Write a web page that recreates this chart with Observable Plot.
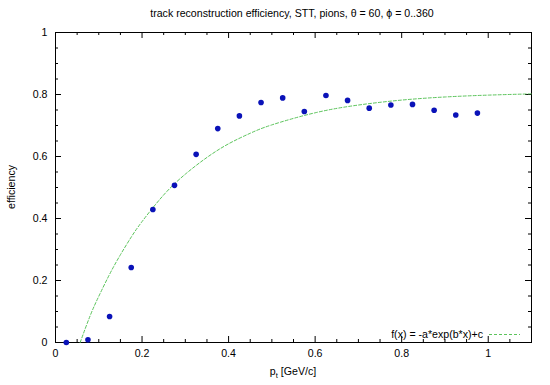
<!DOCTYPE html>
<html>
<head>
<meta charset="utf-8">
<script src="https://cdn.jsdelivr.net/npm/d3@7"></script>
<script src="https://cdn.jsdelivr.net/npm/@observablehq/plot@0.6"></script>
<style>
  html, body { margin: 0; padding: 0; background: #fff; }
  svg { font-family: "Liberation Sans", Arial, sans-serif; }
</style>
</head>
<body>
<div id="chart"></div>
<script>
// measured efficiency vs pt
const ptValues = [0.025, 0.075, 0.125, 0.175, 0.225, 0.275, 0.325, 0.375, 0.425, 0.475,
                  0.525, 0.575, 0.625, 0.675, 0.725, 0.775, 0.825, 0.875, 0.925, 0.975];
const effValues = [0.0, 0.009, 0.084, 0.242, 0.429, 0.507, 0.607, 0.690, 0.731, 0.774,
                   0.789, 0.745, 0.797, 0.781, 0.756, 0.766, 0.768, 0.749, 0.734, 0.740];
// fit curve f(x) = -a*exp(b*x)+c
const fitX = [0.057, 0.08, 0.1, 0.125, 0.15, 0.175, 0.2, 0.25, 0.3, 0.35, 0.4, 0.45, 0.5,
              0.6, 0.7, 0.8, 0.9, 1.0, 1.1];
const fitY = [0.0, 0.086, 0.149, 0.220, 0.283, 0.340, 0.390, 0.476, 0.543, 0.597, 0.641,
              0.675, 0.702, 0.741, 0.766, 0.782, 0.792, 0.798, 0.802];
const xMajor = [0, 0.2, 0.4, 0.6, 0.8, 1];
const xMinor = [0.05, 0.1, 0.15, 0.25, 0.3, 0.35, 0.45, 0.5, 0.55, 0.65, 0.7, 0.75, 0.85, 0.9, 0.95, 1.05];
const yMajor = [0, 0.2, 0.4, 0.6, 0.8, 1];
const yMinor = [0.05, 0.1, 0.15, 0.25, 0.3, 0.35, 0.45, 0.5, 0.55, 0.65, 0.7, 0.75, 0.85, 0.9, 0.95];
const labels = ["0", "0.2", "0.4", "0.6", "0.8", "1"];

const points = ptValues.map((x, i) => ({x, y: effValues[i]}));
const fit = fitX.map((x, i) => ({x, y: fitY[i]}));

const W = 550, H = 385;
const mL = 55, mR = 19, mT = 32, mB = 43;
const fh = H - mT - mB, fw = W - mL - mR;
const major = 6, minor = 3;
const green = "#5cc45c";
const fs = 10.6;

const fmt = d => labels[xMajor.indexOf(d)];

const plot = Plot.plot({
  width: W, height: H,
  marginLeft: mL, marginRight: mR, marginTop: mT, marginBottom: mB,
  style: {fontFamily: "Liberation Sans, Arial, sans-serif", fontSize: fs + "px", background: "#fff"},
  x: {domain: [0, 1.1]},
  y: {domain: [0, 1]},
  marks: [
    Plot.frame({stroke: "#000", strokeWidth: 1}),
    // x ticks bottom & top
    Plot.ruleX(xMajor, {x: d => d, insetTop: fh - major, stroke: "#000"}),
    Plot.ruleX(xMajor, {x: d => d, insetBottom: fh - major, stroke: "#000"}),
    Plot.ruleX(xMinor, {x: d => d, insetTop: fh - minor, stroke: "#000"}),
    Plot.ruleX(xMinor, {x: d => d, insetBottom: fh - minor, stroke: "#000"}),
    // y ticks left & right
    Plot.ruleY(yMajor, {y: d => d, insetRight: fw - major, stroke: "#000"}),
    Plot.ruleY(yMajor, {y: d => d, insetLeft: fw - major, stroke: "#000"}),
    Plot.ruleY(yMinor, {y: d => d, insetRight: fw - minor, stroke: "#000"}),
    Plot.ruleY(yMinor, {y: d => d, insetLeft: fw - minor, stroke: "#000"}),
    Plot.axisX({ticks: xMajor, tickSize: 0, tickPadding: 7, tickFormat: fmt, label: null, fill: "#000", fontSize: fs}),
    Plot.axisY({ticks: yMajor, tickSize: 0, tickPadding: 8, tickFormat: fmt, label: null, fill: "#000", fontSize: fs}),
    Plot.line(fit, {x: "x", y: "y", stroke: green, strokeWidth: 1, strokeDasharray: "3,2", curve: "natural"}),
    Plot.dot(points, {x: "x", y: "y", r: 2.8, fill: "#0a12b8", stroke: "none"})
  ]
});

const svg = d3.select(plot);
svg.append("text")
  .attr("x", mL + fw / 2 - 1).attr("y", 17)
  .attr("text-anchor", "middle").attr("font-size", fs).attr("fill", "#000")
  .text("track reconstruction efficiency, STT, pions, θ = 60, ϕ = 0..360");

const xl = svg.append("text")
  .attr("x", mL + fw / 2).attr("y", 375)
  .attr("text-anchor", "middle").attr("font-size", fs).attr("fill", "#000");
xl.append("tspan").text("p");
xl.append("tspan").attr("font-size", 7.5).attr("dy", 3).text("t");
xl.append("tspan").attr("dy", -3).text(" [GeV/c]");

svg.append("text")
  .attr("transform", `translate(15,${mT + fh / 2}) rotate(-90)`)
  .attr("text-anchor", "middle").attr("font-size", fs).attr("fill", "#000")
  .text("efficiency");

svg.append("text")
  .attr("x", 483).attr("y", 337.5)
  .attr("text-anchor", "end").attr("font-size", fs).attr("fill", "#000")
  .text("f(x) = -a*exp(b*x)+c");
svg.append("line")
  .attr("x1", 489).attr("x2", 520).attr("y1", 334.5).attr("y2", 334.5)
  .attr("stroke", green).attr("stroke-width", 1).attr("stroke-dasharray", "3,2");

document.getElementById("chart").appendChild(plot);
</script>
</body>
</html>
